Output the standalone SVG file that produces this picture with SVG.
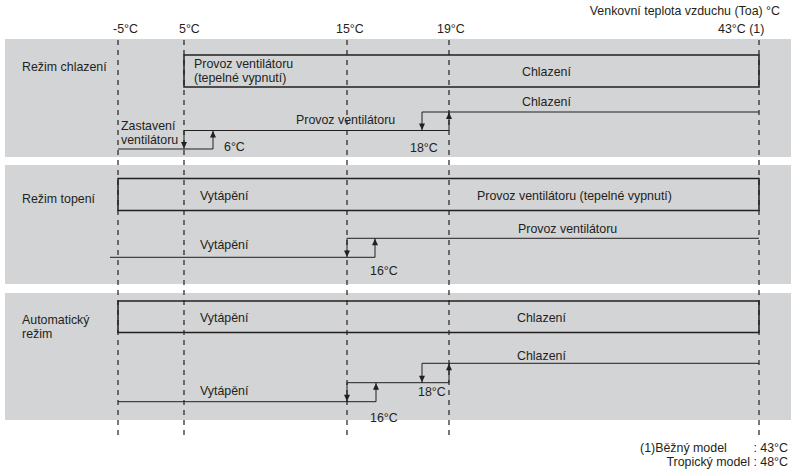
<svg xmlns="http://www.w3.org/2000/svg" xmlns:xlink="http://www.w3.org/1999/xlink" width="791" height="471" viewBox="0 0 791 471">
<defs>
<style>
text{font-family:"Liberation Sans",Arial,sans-serif;font-size:12.4px;fill:#231f20}
.band{fill:#d3d4d6}
.bar{fill:none;stroke:#231f20;stroke-width:1.5}
.ln{fill:none;stroke:#231f20;stroke-width:1}
.dash{fill:none;stroke:#231f20;stroke-width:1.2;stroke-dasharray:5 5}
.ar{fill:#231f20}
</style>
<path id="ad" d="M-3,-6.5 L3,-6.5 L0,0 Z"/>
<path id="au" d="M-3,6.5 L3,6.5 L0,0 Z"/>
</defs>
<rect width="791" height="471" fill="#ffffff"/>

<g id="bands">
<rect class="band" x="5" y="39" width="786" height="118"/>
<rect class="band" x="5" y="165" width="786" height="119"/>
<rect class="band" x="5" y="293" width="786" height="127"/>
</g>

<g id="axis">
<text x="780" y="15" text-anchor="end">Venkovní teplota vzduchu (Toa) °C</text>
<text x="113" y="33">-5°C</text>
<text x="179" y="33">5°C</text>
<text x="336" y="33">15°C</text>
<text x="437" y="33">19°C</text>
<text x="718" y="33">43°C (1)</text>
<path class="dash" d="M118,40 V440 M184,40 V440 M347,40 V440 M449,40 V440 M759,40 V440"/>
</g>

<g id="cooling">
<text x="22" y="71">Režim chlazení</text>
<rect class="bar" x="184" y="55" width="575" height="32"/>
<text x="194" y="68">Provoz ventilátoru</text>
<text x="194" y="82">(tepelné vypnutí)</text>
<text x="522" y="76">Chlazení</text>
<text x="522" y="106">Chlazení</text>
<text x="296" y="124">Provoz ventilátoru</text>
<text x="121" y="130">Zastavení</text>
<text x="121" y="144">ventilátoru</text>
<text x="224" y="151">6°C</text>
<text x="410" y="152">18°C</text>
</g>

<g id="heating">
<text x="22" y="202.5">Režim topení</text>
<rect class="bar" x="118" y="178.5" width="641" height="32"/>
<text x="200" y="199.5">Vytápění</text>
<text x="477" y="199.5">Provoz ventilátoru (tepelné vypnutí)</text>
<text x="518" y="233">Provoz ventilátoru</text>
<text x="200" y="249">Vytápění</text>
<text x="370" y="275">16°C</text>
</g>

<g id="auto">
<text x="22" y="324">Automatický</text>
<text x="22" y="338">režim</text>
<rect class="bar" x="118" y="301" width="641" height="31.5"/>
<text x="200" y="321.5">Vytápění</text>
<text x="517" y="321.5">Chlazení</text>
<text x="517" y="360">Chlazení</text>
<text x="200" y="395">Vytápění</text>
<text x="418" y="396">18°C</text>
<text x="370" y="421.5">16°C</text>
</g>

<g id="note">
<text x="640" y="451.5">(1)Běžný model</text>
<text x="788" y="451.5" text-anchor="end">: 43°C</text>
<text x="788" y="466" text-anchor="end">Tropický model : 48°C</text>
</g>

<g id="connectors">
<path class="ln" d="M118,149 H213 V130.5 M184,149 V130.5 H449 V112 M422,130.5 V112 H759"/>
<use xlink:href="#ad" class="ar" x="184" y="148.5"/>
<use xlink:href="#au" class="ar" x="213" y="131"/>
<use xlink:href="#ad" class="ar" x="422" y="130"/>
<use xlink:href="#au" class="ar" x="449" y="112.5"/>

<path class="ln" d="M110,257.3 H375 V238.3 M347,257.3 V238.3 H759"/>
<use xlink:href="#ad" class="ar" x="347" y="257"/>
<use xlink:href="#au" class="ar" x="375" y="238.8"/>

<path class="ln" d="M118,401.7 H376 V382.7 M347,401.7 V382.7 H449 V363.3 M422,382.7 V363.3 H759"/>
<use xlink:href="#ad" class="ar" x="347" y="401.3"/>
<use xlink:href="#au" class="ar" x="376" y="383.2"/>
<use xlink:href="#ad" class="ar" x="422" y="382.3"/>
<use xlink:href="#au" class="ar" x="449" y="363.8"/>
</g>
</svg>
